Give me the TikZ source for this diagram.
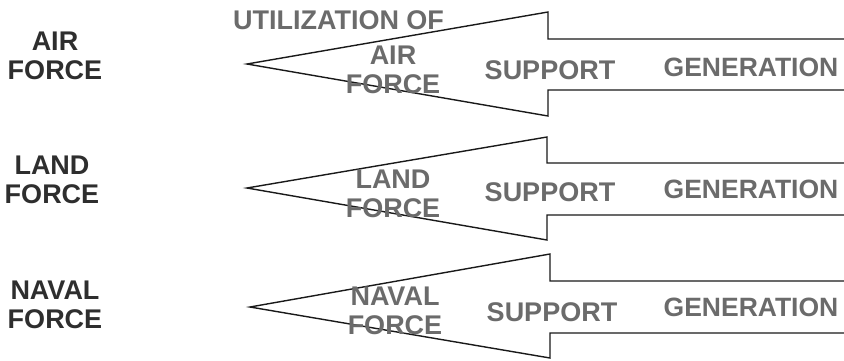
\documentclass[tikz,border=0pt]{standalone}
\usepackage{fontspec}
\setmainfont{Liberation Sans}
\begin{document}
\begin{tikzpicture}[x=1pt,y=-1pt,
  forcelabel/.style={font=\fontsize{27}{29}\selectfont\bfseries, text=black!82, align=center, inner sep=0pt},
  arrowtext/.style={font=\fontsize{27}{29}\selectfont\bfseries, text=black!58, align=center, inner sep=0pt},
  gentext/.style={arrowtext, font=\fontsize{26.5}{29}\selectfont\bfseries},
  bigarrow/.style={draw=black!90, line width=1.4pt, line join=miter}]
\useasboundingbox (0,0) rectangle (844,360);

% force names on the left
\node[forcelabel] (air)   at (55,56)  {AIR\\FORCE};
\node[forcelabel] (land)  at (52,180) {LAND\\FORCE};
\node[forcelabel] (naval) at (55,305) {NAVAL\\FORCE};

% block arrows pointing left, open at the right edge
\draw[bigarrow] (844,39) -- (548,39) -- (548,12) -- (247,64) -- (548,116) -- (548,90) -- (844,90);
\draw[bigarrow] (844,163) -- (547,163) -- (547,137) -- (247,188) -- (547,240) -- (547,215) -- (844,215);
\draw[bigarrow] (844,281) -- (550,281) -- (550,254) -- (250,307) -- (550,358) -- (550,333) -- (844,333);

% texts inside the air force arrow
\node[arrowtext] (util) at (338.5,20) {UTILIZATION OF};
\node[arrowtext] (airin) at (393,70) {AIR\\FORCE};
\node[arrowtext] (sup1) at (550,70) {SUPPORT};
\node[gentext] (gen1) at (751,67) {GENERATION};

% texts inside the land force arrow
\node[arrowtext] (landin) at (393,194) {LAND\\FORCE};
\node[arrowtext] (sup2) at (550,192) {SUPPORT};
\node[gentext] (gen2) at (751,189) {GENERATION};

% texts inside the naval force arrow
\node[arrowtext] (navalin) at (395,311) {NAVAL\\FORCE};
\node[arrowtext] (sup3) at (552,312) {SUPPORT};
\node[gentext] (gen3) at (751,307) {GENERATION};
\end{tikzpicture}
\end{document}
